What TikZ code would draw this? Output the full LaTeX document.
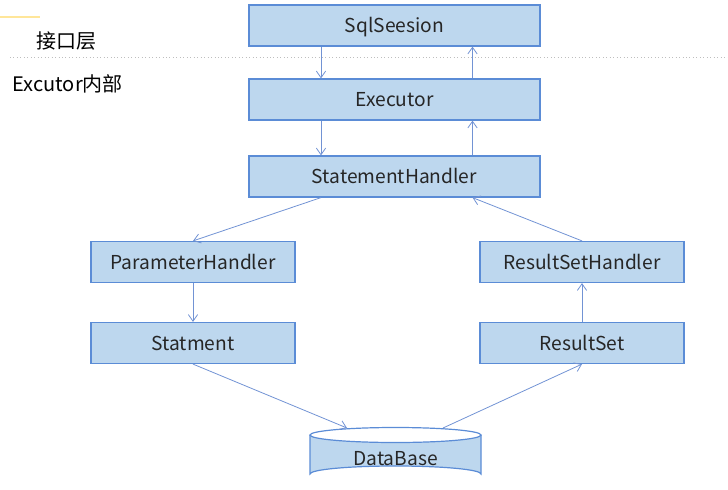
\documentclass[tikz,border=0pt]{standalone}
\usepackage{fontspec}
\setmainfont{Noto Sans CJK SC}
\usetikzlibrary{arrows.meta,shapes.geometric}
\definecolor{boxfill}{RGB}{189,215,238}
\definecolor{boxline}{RGB}{91,140,214}
\definecolor{arr}{RGB}{114,147,212}
\definecolor{sep}{RGB}{190,190,190}
\definecolor{ylw}{RGB}{255,230,153}
\tikzset{
  procbox/.style={draw=boxline, line width=0.9pt, fill=boxfill, inner sep=0pt,
    minimum height=30.75pt, font=\fontsize{14.4}{16}\selectfont, text=black!85,
    text height=11pt, text depth=0pt},
  wide/.style={minimum width=218.25pt},
  narrow/.style={minimum width=153pt},
  conn/.style={draw=arr, line width=0.6pt, -{Straight Barb[length=5pt,width=7pt]}},
}
\begin{document}
\begin{tikzpicture}[x=0.75pt,y=-0.75pt]
\useasboundingbox (0,0) rectangle (728,489);
% separators
\draw[ylw, line width=0.8pt] (0,17) -- (40,17);
\draw[sep, dotted, line width=0.6pt] (10,57) -- (728,57);
\node[anchor=west, font=\fontsize{15}{17}\selectfont] (lab1) at (32,41) {接口层};
\node[anchor=west, font=\fontsize{15}{17}\selectfont] (lab2) at (8,84) {Excutor内部};
% boxes
\node[procbox, wide] (sql) at (394.5,25.5) {SqlSeesion};
\node[procbox, wide] (exe) at (394.5,99.5) {Executor};
\node[procbox, wide] (sh) at (394.5,176.5) {StatementHandler};
\node[procbox, narrow] (ph) at (193,262) {ParameterHandler};
\node[procbox, narrow] (st) at (193,343) {Statment};
\node[procbox, narrow] (rsh) at (582,262) {ResultSetHandler};
\node[procbox, narrow] (rs) at (582,343) {ResultSet};
% database cylinder
\fill[boxfill] (310,435) -- (310,474) arc[start angle=180,end angle=360,x radius=85.5,y radius=8] -- (481,435) arc[start angle=0,end angle=180,x radius=85.5,y radius=7.5];
\draw[boxline, line width=0.9pt] (310,435) -- (310,474) arc[start angle=180,end angle=360,x radius=85.5,y radius=8] -- (481,435);
\draw[boxline, line width=0.9pt] (395.5,435) ellipse[x radius=85.5,y radius=7.5];
\node[font=\fontsize{14.4}{16}\selectfont, text=black!85, text height=11pt, text depth=0pt, inner sep=0pt] (db) at (395.5,458) {DataBase};
\coordinate (dbin) at (347,428);
\coordinate (dbout) at (443,428);
% connectors
\draw[conn] ([xshift=-55.125pt]sql.south) -- ([xshift=-55.125pt]exe.north);
\draw[conn] ([xshift=58.5pt]exe.north) -- ([xshift=58.5pt]sql.south);
\draw[conn] ([xshift=-55.125pt]exe.south) -- ([xshift=-55.125pt]sh.north);
\draw[conn] ([xshift=58.5pt]sh.north) -- ([xshift=58.5pt]exe.south);
\draw[conn] ([xshift=-55.125pt]sh.south) -- (ph.north);
\draw[conn] (rsh.north) -- ([xshift=58.5pt]sh.south);
\draw[conn] (ph.south) -- (st.north);
\draw[conn] (rs.north) -- (rsh.south);
\draw[conn] (st.south) -- (dbin);
\draw[conn] (dbout) -- (rs.south);
\end{tikzpicture}
\end{document}
